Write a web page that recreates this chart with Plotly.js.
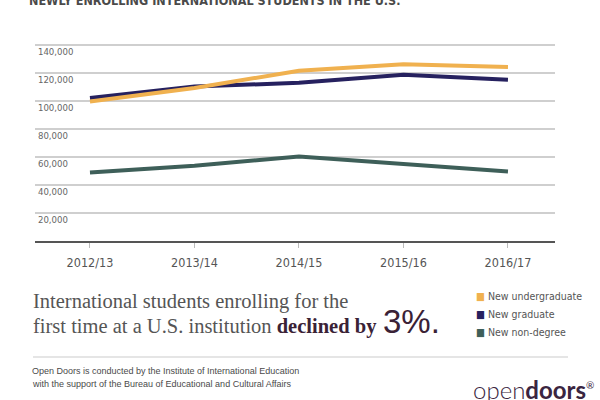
<!DOCTYPE html>
<html>
<head>
<meta charset="utf-8">
<script src="https://cdn.plot.ly/plotly-3.0.1.min.js"></script>
<style>html,body{margin:0;padding:0;background:#fff;}#chart{width:600px;height:400px;}</style>
</head>
<body>
<div id="chart"></div>
<script>
// ---- data ----
var years = ['2012/13', '2013/14', '2014/15', '2015/16', '2016/17'];
var newUndergraduate = [99700, 109300, 121600, 126300, 124300];
var newGraduate = [102100, 110300, 113000, 118800, 115200];
var newNonDegree = [49000, 53800, 60300, 55200, 49700];
var seriesNames = ['New undergraduate', 'New graduate', 'New non-degree'];
var yTicks = [20000, 40000, 60000, 80000, 100000, 120000, 140000];
var titleText = 'NEWLY ENROLLING INTERNATIONAL STUDENTS IN THE U.S.';

// ---- styles ----
var colors = ['#f0b14f', '#26215f', '#3e5f59'];
var W = 600, H = 400, mL = 35, mR = 45, mT = 38, mB = 159;
var plotW = W - mL - mR, plotH = H - mT - mB;
function px(p) { return (p - mL) / plotW; }
function py(p) { return (H - mB - p) / plotH; }

var traces = [
  {x: years, y: newGraduate, name: seriesNames[1], line: {color: colors[1], width: 4}},
  {x: years, y: newUndergraduate, name: seriesNames[0], line: {color: colors[0], width: 4}},
  {x: years, y: newNonDegree, name: seriesNames[2], line: {color: colors[2], width: 4}}
].map(function (t) { t.type = 'scatter'; t.mode = 'lines'; t.hoverinfo = 'skip'; return t; });

var narrow = '"Liberation Sans Narrow", "DejaVu Sans Condensed", Arial, sans-serif';
var serif = '"Liberation Serif", "DejaVu Serif", serif';

var annotations = [
  {text: titleText, x: px(27), y: py(0), xanchor: 'left', yanchor: 'middle',
   font: {family: narrow, size: 12.5, color: '#4a4a4a', weight: 700}},
  {text: 'International students enrolling for the', x: px(31), y: py(301), xanchor: 'left', yanchor: 'middle',
   font: {family: serif, size: 20.5, color: '#555555'}},
  {text: 'first time at a U.S. institution <b><span style="color:#3a2236">declined by</span></b>', x: px(31), y: py(326), xanchor: 'left', yanchor: 'middle',
   font: {family: serif, size: 20.5, color: '#555555'}},
  {text: '3%.', x: px(381), y: py(321), xanchor: 'left', yanchor: 'middle',
   font: {family: '"Liberation Sans", Arial, sans-serif', size: 33, color: '#3a2236'}},
  {text: 'Open Doors is conducted by the Institute of International Education', x: px(30), y: py(371), xanchor: 'left', yanchor: 'middle',
   font: {family: '"Liberation Sans", Arial, sans-serif', size: 9, color: '#4a4a4a'}},
  {text: 'with the support of the Bureau of Educational and Cultural Affairs', x: px(30), y: py(384), xanchor: 'left', yanchor: 'middle',
   font: {family: '"Liberation Sans", Arial, sans-serif', size: 9, color: '#4a4a4a'}},
  {text: '<span style="font-weight:300">open</span><b>doors</b><sup><span style="font-size:10px">®</span></sup>', x: px(471), y: py(389), xanchor: 'left', yanchor: 'middle',
   font: {family: 'Lato, "Open Sans", sans-serif', size: 24, color: '#3a2540'}}
];
// legend entries
var legendOrder = [0, 1, 2];
legendOrder.forEach(function (k, i) {
  annotations.push({
    text: '<span style="color:' + colors[k] + '">■</span> ' + seriesNames[k],
    x: px(474), y: py(296 + i * 18), xanchor: 'left', yanchor: 'middle',
    font: {family: narrow, size: 10.5, color: '#555'}
  });
});
annotations.forEach(function (a) { a.xref = 'paper'; a.yref = 'paper'; a.showarrow = false; });

var layout = {
  width: W, height: H,
  margin: {l: mL, r: mR, t: mT, b: mB, pad: 0},
  paper_bgcolor: '#ffffff', plot_bgcolor: '#ffffff',
  showlegend: false,
  xaxis: {
    type: 'category', categoryorder: 'array', categoryarray: years,
    range: [-0.526, 4.45], showgrid: false, zeroline: false,
    showline: true, linecolor: '#555', linewidth: 2,
    ticks: 'outside', ticklen: 5, tickcolor: '#bbb', tickwidth: 1,
    ticklabelstandoff: 4,
    tickfont: {family: narrow, size: 12.5, color: '#555'}
  },
  xaxis2: {
    overlaying: 'x', anchor: 'y', side: 'bottom', type: 'linear',
    range: [-0.526, 4.45], tickmode: 'array', tickvals: years.map(function (c, i) { return i; }),
    showticklabels: false, showgrid: false, zeroline: false, showline: false,
    ticks: 'inside', ticklen: 6, tickcolor: '#bbb', tickwidth: 1
  },
  yaxis: {
    range: [0, 145000], tickmode: 'array', tickvals: yTicks, tickformat: ',d',
    showgrid: true, gridcolor: '#cfcfcf', gridwidth: 2, zeroline: false,
    showline: false, ticks: '', ticklabelposition: 'inside bottom',
    tickfont: {family: narrow, size: 9.5, color: '#666'}
  },
  shapes: [
    {type: 'line', xref: 'paper', yref: 'paper', x0: px(33), x1: px(568), y0: py(357), y1: py(357),
     line: {color: '#dddddd', width: 1.5}}
  ],
  annotations: annotations
};

Plotly.newPlot('chart', traces, layout, {displayModeBar: false, staticPlot: true});
</script>
</body>
</html>
